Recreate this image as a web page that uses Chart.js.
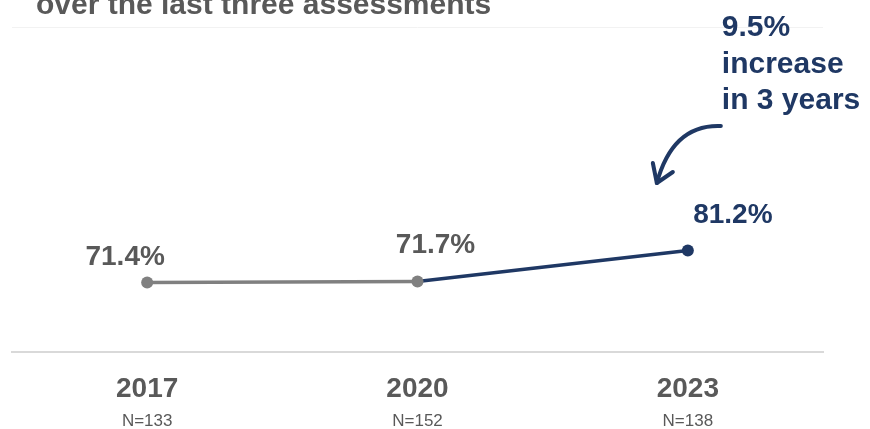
<!DOCTYPE html>
<html>
<head>
<meta charset="utf-8">
<script src="https://cdn.jsdelivr.net/npm/chart.js@4/dist/chart.umd.min.js"></script>
<style>
  html, body { margin: 0; padding: 0; background: #fff; }
  #wrap { width: 870px; height: 429px; position: relative; }
</style>
</head>
<body>
<div id="wrap"><canvas id="lineChart"></canvas></div>
<script>
// datos del gráfico
const years = ['2017', '2020', '2023'];
const sampleSizes = ['N=133', 'N=152', 'N=138'];
const scores = [71.4, 71.7, 81.2];
const yRange = [50, 150];

const gris = '#808080';
const grisTexto = '#595959';
const azul = '#1f3864';
const fuente = "'Liberation Sans', Arial, sans-serif";

// desplazamiento de cada etiqueta respecto a su punto
const labelOffsets = [[-22, -17], [18, -28], [45, -28]];
const labelColors = [grisTexto, grisTexto, azul];

const textosPlugin = {
  id: 'textos',
  afterDatasetsDraw(chart) {
    const ctx = chart.ctx;
    const meta = chart.getDatasetMeta(0);
    const xScale = chart.scales.x;
    const area = chart.chartArea;
    ctx.save();

    // titulo (cortado arriba)
    ctx.fillStyle = grisTexto;
    ctx.font = 'bold 30px ' + fuente;
    ctx.textAlign = 'left';
    ctx.textBaseline = 'alphabetic';
    ctx.fillText('over the last three assessments', 36, 14);

    // etiquetas de valor
    ctx.font = 'bold 28px ' + fuente;
    ctx.textAlign = 'center';
    meta.data.forEach((pt, i) => {
      ctx.fillStyle = labelColors[i];
      ctx.fillText(scores[i].toFixed(1) + '%', pt.x + labelOffsets[i][0], pt.y + labelOffsets[i][1]);
    });

    // años y N
    years.forEach((y, i) => {
      const x = xScale.getPixelForValue(i);
      ctx.fillStyle = grisTexto;
      ctx.font = 'bold 28px ' + fuente;
      ctx.fillText(y, x, area.bottom + 45);
      ctx.font = '17px ' + fuente;
      ctx.fillText(sampleSizes[i], x, area.bottom + 74);
    });

    // anotación
    const last = meta.data[2];
    const ax = last.x + 34;
    ctx.fillStyle = azul;
    ctx.font = 'bold 30px ' + fuente;
    ctx.textAlign = 'left';
    ctx.fillText('9.5%', ax, 36);
    ctx.fillText('increase', ax, 72.5);
    ctx.fillText('in 3 years', ax, 109);

    // flecha curva
    ctx.strokeStyle = azul;
    ctx.lineWidth = 4;
    ctx.lineCap = 'round';
    ctx.lineJoin = 'round';
    const tipX = last.x - 31, tipY = 183;
    ctx.beginPath();
    ctx.moveTo(ax - 1, 126);
    ctx.quadraticCurveTo(last.x - 15, 124, tipX, tipY);
    ctx.stroke();
    ctx.beginPath();
    ctx.moveTo(tipX - 4, tipY - 20);
    ctx.lineTo(tipX, tipY);
    ctx.lineTo(tipX + 16, tipY - 11);
    ctx.stroke();

    ctx.restore();
  }
};

const lineChartData = {
  labels: years,
  datasets: [{
    data: scores,
    borderWidth: 3.5,
    borderColor: gris,
    segment: {
      borderColor: c => c.p1DataIndex === 2 ? azul : gris
    },
    pointRadius: 6,
    pointHoverRadius: 6,
    pointBorderWidth: 0,
    pointBackgroundColor: [gris, gris, azul],
    tension: 0,
    fill: false
  }]
};

function renderChart() {
  const lineCtx = document.getElementById('lineChart').getContext('2d');
  new Chart(lineCtx, {
    type: 'line',
    data: lineChartData,
    options: {
      responsive: true,
      maintainAspectRatio: false,
      animation: false,
      layout: { padding: { left: 12, right: 47, top: 27, bottom: 77 } },
      plugins: {
        legend: { display: false },
        tooltip: { enabled: false }
      },
      scales: {
        x: {
          offset: true,
          ticks: { display: false },
          grid: { color: 'transparent', drawTicks: false },
          border: { display: true, color: '#d9d9d9', width: 2 }
        },
        y: {
          min: yRange[0],
          max: yRange[1],
          ticks: { display: false, stepSize: 100 },
          grid: {
            drawTicks: false,
            color: c => c.tick && c.tick.value === yRange[1] ? '#f2f2f2' : 'transparent'
          },
          border: { display: false }
        }
      }
    },
    plugins: [textosPlugin]
  });
}

document.addEventListener('DOMContentLoaded', renderChart);
</script>
</body>
</html>
